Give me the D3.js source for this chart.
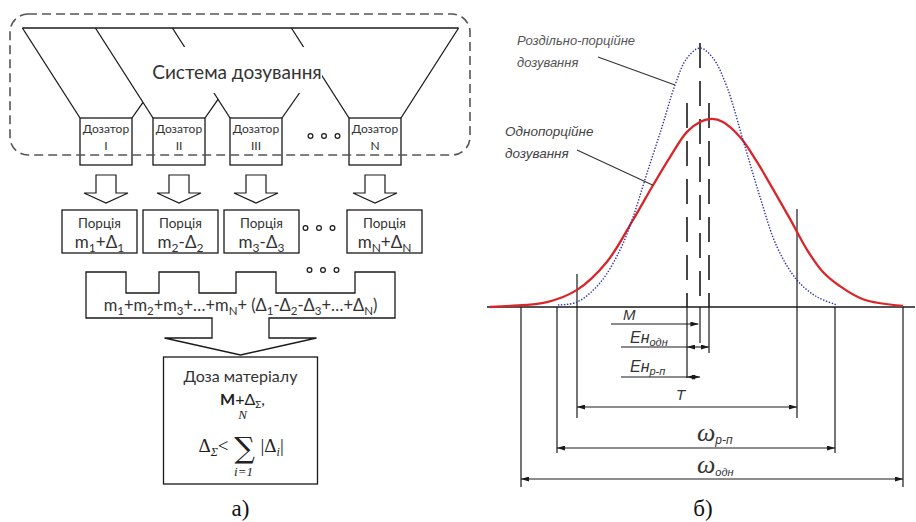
<!DOCTYPE html>
<html lang="uk">
  <head>
    <meta charset="UTF-8" />
    <title>Дозування</title>
    <script src="https://cdn.jsdelivr.net/npm/d3@7"></script>
    <style>
      body { margin: 0; background: #fff; }
      svg { display: block; }
    </style>
  </head>
  <body>
    <script>
      // ---- left panel: dispensers and portions
      let dispensers = ["I", "II", "III", "N"];
      let portionIdx = ["1", "2", "3", "N"];
      let portionSign = ["+", "-", "-", "+"];

      // ---- right panel: distributions (x in dose units, y relative to peak)
      let blueX = [17.75, 22.5, 28.25, 33.25, 36.5, 40, 43.75, 47, 50, 53.25, 56.5, 60, 64, 68.25, 72.5, 77.5, 82.5, 87.5];
      let blueY = [0.008, 0.019, 0.093, 0.22, 0.347, 0.517, 0.695, 0.857, 0.961, 1.0, 0.961, 0.849, 0.645, 0.425, 0.232, 0.104, 0.039, 0.008];
      let redX = [0.75, 5.75, 15, 22.5, 30, 36.5, 41.5, 45.75, 50, 53.25, 56.25, 59, 63.25, 67.5, 71.5, 75.75, 80.25, 84, 88, 94, 104];
      let redY = [0, 0.004, 0.019, 0.066, 0.175, 0.336, 0.47, 0.579, 0.676, 0.714, 0.726, 0.714, 0.656, 0.56, 0.455, 0.34, 0.215, 0.135, 0.083, 0.03, 0.004];
      let tLimits = [22.5, 77.5];
      let tTops = [0.127, 0.378];
      let omegaRp = [17.5, 87];
      let omegaOdn = [8.5, 104];
      let centreX = [50, 53.25, 55.5];
      let centreTop = [0.788, 1.019, 0.788];
      let mStart = 31;
      let eStart = 33.5;

      let svg = d3.select("body").append("svg").attr("width", 916).attr("height", 522);
      let ink = "#1a1a1a";
      let sans = "Lato, 'Open Sans', sans-serif";

      svg.append("defs").append("marker")
        .attr("id", "arr")
        .attr("viewBox", "0 0 8 5")
        .attr("refX", 8).attr("refY", 2.5)
        .attr("markerWidth", 8).attr("markerHeight", 5)
        .attr("markerUnits", "userSpaceOnUse")
        .attr("orient", "auto-start-reverse")
        .append("path").attr("d", "M0,0L8,2.5L0,5z").attr("fill", ink);

      // text with subscripts: parts = [[text, isSub], ...]
      function rich(sel, parts, size, subSize) {
        let prevSub = false;
        parts.forEach(function (p) {
          let t = sel.append("tspan").text(p[0]);
          if (p[1] && !prevSub) t.attr("dy", size * 0.22).attr("font-size", subSize);
          else if (p[1]) t.attr("font-size", subSize);
          else if (prevSub) t.attr("dy", -size * 0.22);
          prevSub = !!p[1];
        });
        return sel;
      }

      // ================= LEFT PANEL =================
      let L = svg.append("g");
      let dispC = d3.scaleOrdinal().domain(dispensers).range([106, 179, 256, 375]);
      let portC = d3.scaleOrdinal().domain(portionIdx).range([99.5, 180.5, 261.5, 384.5]);
      let topY = 28, boxTop = 118, boxBot = 165, boxW = 52, s = 0.64, k = 0.7;

      // funnel
      let firstLeft = dispC(dispensers[0]) - boxW / 2 - s * (boxTop - topY);
      let lastRight = dispC(dispensers[3]) + boxW / 2 + s * (boxTop - topY);
      L.append("line").attr("x1", firstLeft).attr("x2", lastRight).attr("y1", topY).attr("y2", topY)
        .attr("stroke", ink).attr("stroke-width", 1.3);
      dispensers.forEach(function (d, i) {
        let left = dispC(d) - boxW / 2, right = dispC(d) + boxW / 2;
        L.append("line").attr("x1", left - s * (boxTop - topY)).attr("y1", topY)
          .attr("x2", left).attr("y2", boxTop).attr("stroke", ink).attr("stroke-width", 1.3);
        let ex, ey;
        if (i < dispensers.length - 1) {
          let nextLeft = dispC(dispensers[i + 1]) - boxW / 2;
          let dd = (nextLeft - right) / (k + s);
          ex = right + k * dd; ey = boxTop - dd;
        } else { ex = lastRight; ey = topY; }
        L.append("line").attr("x1", right).attr("y1", boxTop).attr("x2", ex).attr("y2", ey)
          .attr("stroke", ink).attr("stroke-width", 1.3);
      });
      // gap round the caption
      L.append("rect").attr("x", 150).attr("y", 47).attr("width", 172).attr("height", 46).attr("fill", "#fff");
      L.append("text").attr("x", 237).attr("y", 79).attr("text-anchor", "middle")
        .attr("font-family", sans).attr("font-size", 19).attr("fill", "#333").text("Система дозування");

      // dispenser boxes
      let db = L.selectAll(".disp").data(dispensers).enter().append("g").attr("class", "disp");
      db.append("rect").attr("x", function (d) { return dispC(d) - boxW / 2; }).attr("y", boxTop)
        .attr("width", boxW).attr("height", boxBot - boxTop).attr("fill", "#fff").attr("stroke", ink).attr("stroke-width", 1.3);
      db.append("text").attr("x", function (d) { return dispC(d); }).attr("y", 133).attr("text-anchor", "middle")
        .attr("font-family", sans).attr("font-size", 12).attr("fill", "#333").text("Дозатор");
      db.append("text").attr("x", function (d) { return dispC(d); }).attr("y", 150).attr("text-anchor", "middle")
        .attr("font-family", sans).attr("font-size", 12).attr("fill", "#333").text(function (d) { return d; });

      // dashed system border (drawn over the boxes)
      L.append("rect").attr("x", 10).attr("y", 14).attr("width", 460).attr("height", 141).attr("rx", 18)
        .attr("fill", "none").attr("stroke", "#555").attr("stroke-width", 1.6).attr("stroke-dasharray", "9,5");

      function dots(cx, cy) {
        [-13.5, 0, 13.5].forEach(function (o) {
          L.append("circle").attr("cx", cx + o).attr("cy", cy).attr("r", 2.4)
            .attr("fill", "none").attr("stroke", ink).attr("stroke-width", 1.2);
        });
      }
      dots(324, 136);

      // hollow arrows
      L.selectAll(".harr").data(dispensers).enter().append("path").attr("class", "harr")
        .attr("d", function (d) {
          let c = dispC(d);
          return "M" + (c - 10) + ",175V193H" + (c - 22) + "L" + c + ",203L" + (c + 22) + ",193H" + (c + 10) + "V175Z";
        })
        .attr("fill", "#fff").attr("stroke", ink).attr("stroke-width", 1.2);

      // portion boxes
      let pb = L.selectAll(".port").data(portionIdx).enter().append("g").attr("class", "port");
      pb.append("rect").attr("x", function (d) { return portC(d) - 37.5; }).attr("y", 210)
        .attr("width", 75).attr("height", 43).attr("fill", "#fff").attr("stroke", ink).attr("stroke-width", 1.3);
      pb.append("text").attr("x", function (d) { return portC(d); }).attr("y", 228).attr("text-anchor", "middle")
        .attr("font-family", sans).attr("font-size", 13.5).attr("fill", "#333").text("Порція");
      pb.each(function (d, i) {
        let t = d3.select(this).append("text").attr("x", portC(d)).attr("y", 248).attr("text-anchor", "middle")
          .attr("font-family", sans).attr("font-size", 17).attr("fill", "#333");
        rich(t, [["m"], [d, 1], [portionSign[i] + "Δ"], [d, 1]], 17, 12);
      });
      dots(319, 228);

      // merging shape with the big arrow
      let tabs = dispensers.map(function (d) { return [dispC(d) - 20, dispC(d) + 20]; });
      let mTop = 272, mNotch = 293, mBot = 318;
      let mc = (tabs[0][0] + tabs[3][1]) / 2;
      let p = d3.path();
      p.moveTo(tabs[0][0], mBot);
      p.lineTo(tabs[0][0], mTop);
      tabs.forEach(function (t, i) {
        if (i > 0) { p.lineTo(t[0], mNotch); p.lineTo(t[0], mTop); }
        p.lineTo(t[1], mTop);
        if (i < tabs.length - 1) p.lineTo(t[1], mNotch);
      });
      p.lineTo(tabs[3][1], mBot);
      p.lineTo(mc + 28.5, mBot); p.lineTo(mc + 28.5, 338); p.lineTo(mc + 76, 338);
      p.lineTo(mc, 355);
      p.lineTo(mc - 76, 338); p.lineTo(mc - 28.5, 338); p.lineTo(mc - 28.5, mBot);
      p.closePath();
      L.append("path").attr("d", p.toString()).attr("fill", "none").attr("stroke", ink).attr("stroke-width", 1.3);
      dots(323, 270);

      let sumParts = [];
      portionIdx.forEach(function (d, i) {
        if (i > 0) sumParts.push([i === 3 ? "+…+" : "+"]);
        sumParts.push(["m"]); sumParts.push([d, 1]);
      });
      sumParts.push(["+ ("]);
      portionIdx.forEach(function (d, i) {
        if (i > 0) sumParts.push([i === 3 ? "+…+" : portionSign[i]]);
        sumParts.push(["Δ"]); sumParts.push([d, 1]);
      });
      sumParts.push([")"]);
      rich(L.append("text").attr("x", mc).attr("y", 311).attr("text-anchor", "middle")
        .attr("font-family", sans).attr("font-size", 16.5).attr("fill", "#333"), sumParts, 16.5, 11.5);

      // result box
      L.append("rect").attr("x", mc - 77).attr("y", 357).attr("width", 154).attr("height", 127)
        .attr("fill", "#fff").attr("stroke", ink).attr("stroke-width", 1.3);
      L.append("text").attr("x", mc).attr("y", 382).attr("text-anchor", "middle")
        .attr("font-family", sans).attr("font-size", 16).attr("fill", "#333").text("Доза матеріалу");
      let mt = L.append("text").attr("x", mc + 2).attr("y", 405).attr("text-anchor", "middle")
        .attr("font-family", sans).attr("font-size", 16).attr("fill", "#222");
      mt.append("tspan").attr("font-weight", "bold").text("M");
      mt.append("tspan").text("+Δ");
      mt.append("tspan").attr("font-size", 10).attr("dy", 3).text("Σ");
      mt.append("tspan").attr("dy", -3).text(",");
      let serif = "'DejaVu Serif', 'Liberation Serif', serif";
      L.append("text").attr("x", mc + 2).attr("y", 419).attr("text-anchor", "middle")
        .attr("font-family", "'Liberation Serif', serif").attr("font-style", "italic").attr("font-size", 13).attr("fill", "#222").text("N");
      L.append("text").attr("x", mc + 4).attr("y", 458).attr("text-anchor", "middle")
        .attr("font-family", serif).attr("font-size", 29).attr("fill", "#222").text("∑");
      let lt = L.append("text").attr("x", mc - 12).attr("y", 452).attr("text-anchor", "end")
        .attr("font-family", "'Liberation Serif', serif").attr("font-size", 19).attr("fill", "#222");
      lt.append("tspan").text("Δ");
      lt.append("tspan").attr("font-size", 12).attr("font-style", "italic").attr("dy", 4).text("Σ");
      lt.append("tspan").attr("dy", -4).text("<");
      let rt = L.append("text").attr("x", mc + 20).attr("y", 452)
        .attr("font-family", "'Liberation Serif', serif").attr("font-size", 19).attr("fill", "#222");
      rt.append("tspan").text("|Δ");
      rt.append("tspan").attr("font-size", 12).attr("font-style", "italic").attr("dy", 4).text("i");
      rt.append("tspan").attr("dy", -4).text("|");
      L.append("text").attr("x", mc + 3).attr("y", 476).attr("text-anchor", "middle")
        .attr("font-family", "'Liberation Serif', serif").attr("font-style", "italic").attr("font-size", 13).attr("fill", "#222").text("i=1");

      L.append("text").attr("x", mc).attr("y", 516).attr("text-anchor", "middle")
        .attr("font-family", "'Liberation Serif', serif").attr("font-size", 23).attr("fill", "#111").text("а)");

      // ================= RIGHT PANEL =================
      let R = svg.append("g");
      let x = d3.scaleLinear().domain([0, 107]).range([487, 915]);
      let y = d3.scaleLinear().domain([0, 1]).range([307, 48]);
      let base = y(0);

      // centre (dashed) lines
      let belowC = [378, 343, 353];
      centreX.forEach(function (c, i) {
        R.append("line").attr("x1", x(c)).attr("x2", x(c)).attr("y1", y(centreTop[i])).attr("y2", base)
          .attr("stroke", ink).attr("stroke-width", 1.6).attr("stroke-dasharray", "25,13");
        R.append("line").attr("x1", x(c)).attr("x2", x(c)).attr("y1", base).attr("y2", belowC[i])
          .attr("stroke", ink).attr("stroke-width", 1.2);
      });

      // limit lines
      tLimits.forEach(function (c, i) {
        R.append("line").attr("x1", x(c)).attr("x2", x(c)).attr("y1", y(tTops[i])).attr("y2", 418)
          .attr("stroke", ink).attr("stroke-width", 1.2);
      });
      omegaRp.forEach(function (c) {
        R.append("line").attr("x1", x(c)).attr("x2", x(c)).attr("y1", base).attr("y2", 453)
          .attr("stroke", ink).attr("stroke-width", 1.2);
      });
      omegaOdn.forEach(function (c) {
        R.append("line").attr("x1", x(c)).attr("x2", x(c)).attr("y1", base).attr("y2", 487)
          .attr("stroke", ink).attr("stroke-width", 1.2);
      });

      // base line
      R.append("line").attr("x1", x(0)).attr("x2", x(107)).attr("y1", base).attr("y2", base)
        .attr("stroke", ink).attr("stroke-width", 1.3);

      let line = d3.line().x(function (d) { return x(d[0]); }).y(function (d) { return y(d[1]); })
        .curve(d3.curveCatmullRom.alpha(0.5));
      let redPts = d3.zip(redX, redY);
      let bluePts = d3.zip(blueX, blueY);
      R.append("path").attr("d", line(redPts)).attr("fill", "none").attr("stroke", "#d8262a").attr("stroke-width", 2.3);
      R.append("path").attr("d", line(bluePts)).attr("fill", "none").attr("stroke", "#2b2fa8")
        .attr("stroke-width", 1.4).attr("stroke-dasharray", "1.4,1.6");

      // labels with leaders
      let lab = "'Liberation Sans', Arial, sans-serif";
      R.append("text").attr("x", 517).attr("y", 45).attr("font-family", lab).attr("font-style", "italic")
        .attr("font-size", 13).attr("fill", "#555").text("Роздільно-порційне");
      R.append("text").attr("x", 517).attr("y", 67).attr("font-family", lab).attr("font-style", "italic")
        .attr("font-size", 13).attr("fill", "#555").text("дозування");
      R.append("line").attr("x1", 598).attr("y1", 57).attr("x2", x(bluePts[7][0])).attr("y2", y(bluePts[7][1]))
        .attr("stroke", "#333").attr("stroke-width", 1.1);
      R.append("text").attr("x", 505).attr("y", 136).attr("font-family", lab).attr("font-style", "italic")
        .attr("font-size", 13.5).attr("fill", "#444").text("Однопорційне");
      R.append("text").attr("x", 505).attr("y", 158).attr("font-family", lab).attr("font-style", "italic")
        .attr("font-size", 13.5).attr("fill", "#444").text("дозування");
      R.append("line").attr("x1", 577).attr("y1", 150).attr("x2", x(redPts[6][0])).attr("y2", y(redPts[6][1]))
        .attr("stroke", "#333").attr("stroke-width", 1.1);

      // dimension arrows
      function dim(a, b, yy, both) {
        let l = R.append("line").attr("x1", x(a)).attr("x2", x(b)).attr("y1", yy).attr("y2", yy)
          .attr("stroke", ink).attr("stroke-width", 1.1).attr("marker-end", "url(#arr)");
        if (both) l.attr("marker-start", "url(#arr)");
      }
      function plain(a, b, yy) {
        R.append("line").attr("x1", x(a)).attr("x2", x(b)).attr("y1", yy).attr("y2", yy)
          .attr("stroke", ink).attr("stroke-width", 1.1);
      }
      dim(mStart, centreX[1] - 0.4, 324, false);
      plain(eStart, centreX[0], 347);
      dim(centreX[0], centreX[2], 347, true);
      plain(eStart, centreX[0], 377);
      dim(centreX[0], centreX[1], 377, true);
      dim(tLimits[0], tLimits[1], 407, true);
      dim(omegaRp[0], omegaRp[1], 448, true);
      dim(omegaOdn[0], omegaOdn[1], 479, true);

      function dimLabel(xx, yy, main, sub, mainFont, mainSize, subSize) {
        let t = R.append("text").attr("x", xx).attr("y", yy).attr("font-style", "italic").attr("fill", "#333");
        t.append("tspan").attr("font-family", mainFont).attr("font-size", mainSize).text(main);
        if (sub) t.append("tspan").attr("font-family", lab).attr("font-size", subSize).attr("dy", 3).text(sub);
      }
      dimLabel(623, 320, "М", null, lab, 15, 0);
      dimLabel(630, 343, "Ен", "одн", lab, 16, 11);
      dimLabel(630, 372, "Ен", "р-п", lab, 16, 11);
      dimLabel(676, 400, "T", null, lab, 15, 0);
      dimLabel(697, 441, "ω", "р-п", "'Liberation Serif', serif", 26, 12);
      dimLabel(697, 473, "ω", "одн", "'Liberation Serif', serif", 26, 11);

      R.append("text").attr("x", 703).attr("y", 516).attr("text-anchor", "middle")
        .attr("font-family", "'Liberation Serif', serif").attr("font-size", 23).attr("fill", "#111").text("б)");
    </script>
  </body>
</html>
